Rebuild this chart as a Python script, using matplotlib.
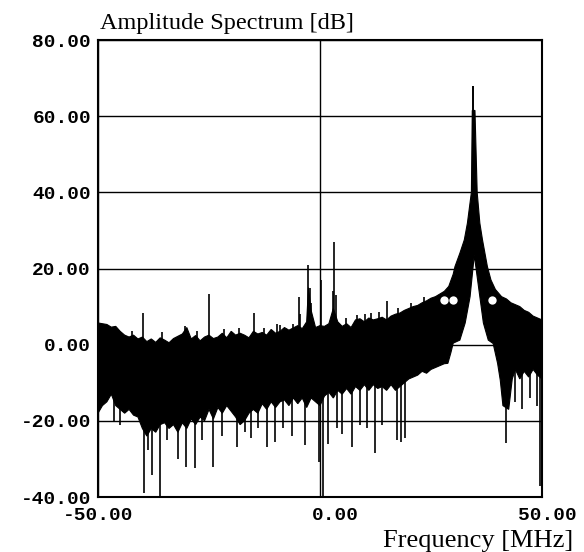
import matplotlib
matplotlib.use('Agg')
import matplotlib.pyplot as plt
import matplotlib.transforms as mtransforms
import numpy as np

# ── Data (frequency in MHz, level in dB) ─────────────────────────────────────
# top edge of the dense noise band, incl. the carrier skirt
top_freq = [-50, -49, -48, -47, -46, -45, -44, -43, -42, -41, -40, -39, -38, -37,
            -36, -35, -34, -33, -32, -31, -30, -29, -28, -27, -26, -25, -24, -23,
            -22, -21, -20, -19, -18, -17, -16, -15, -14, -13, -12, -11, -10, -9,
            -8, -7, -6, -5, -4, -3, -2.6, -2, -1, 0, 1, 2, 3, 4, 5, 6, 7, 8, 9,
            10, 11, 12, 13, 14, 15, 16, 17, 18, 19, 20, 21, 22, 23, 24, 25, 26,
            27, 28, 29, 30, 30.4, 31.5, 32.5, 33.2, 34.1, 34.3, 34.9, 35.4, 36.0,
            36.6, 37.7, 38.5, 39.5, 40.9, 42, 43, 44, 45, 46, 47, 48, 49, 50]
top_db = [5.7, 5.5, 5.3, 4.6, 4.8, 3.5, 2.5, 2.0, 2.5, 1.5, 2.0, 0.8, 1.5, 0.6,
          1.8, 1.2, 0.5, 1.6, 2.2, 2.8, 4.5, 1.5, 2.4, 1.0, 2.0, 2.5, 1.6, 2.0,
          3.0, 1.8, 3.5, 2.5, 3.0, 2.5, 1.8, 3.5, 2.8, 3.2, 2.5, 4.0, 3.0, 3.5,
          4.5, 3.8, 4.4, 5.0, 4.2, 6.0, 15.0, 9.0, 4.5, 5.0, 4.8, 5.5, 9.5, 6.0,
          4.8, 5.5, 4.5, 6.5, 6.8, 6.0, 7.0, 6.5, 6.8, 7.2, 6.5, 7.5, 8.0, 8.3,
          9.0, 9.5, 10.0, 10.3, 11.0, 11.5, 12.2, 12.6, 13.3, 14.0, 15.3, 18.5,
          20.5, 24.0, 27.5, 31.9, 40.0, 61.5, 61.5, 40.0, 31.9, 27.5, 20.5, 17.0,
          14.5, 12.6, 12.0, 11.0, 10.5, 10.0, 9.0, 8.5, 7.5, 7.0, 6.5]

# bottom edge of the dense noise band (white notch under the carrier)
bottom_freq = [-50, -49, -48, -47, -46, -45, -44, -43, -42, -41, -40, -39, -38,
               -37, -36, -35, -34, -33, -32, -31, -30, -29, -28, -27, -26, -25,
               -24, -23, -22, -21, -20, -19, -18, -17, -16, -15, -14, -13, -12,
               -11, -10, -9, -8, -7, -6, -5, -4, -3, -2, -1, 0, 1, 2, 3, 4, 5, 6,
               7, 8, 9, 10, 11, 12, 13, 14, 15, 16, 17, 18, 19, 20, 21, 22, 23,
               24, 25, 26, 27, 28, 28.8, 29.5, 30, 31.5, 32.7, 33.8, 34.75, 36.0,
               36.8, 37.9, 39, 40, 40.6, 41.2, 42.5, 43.3, 44, 45, 46, 47, 48, 49,
               50]
bottom_db = [-18, -16, -15, -13, -16, -17, -18, -17, -18.5, -19, -22, -24, -22,
             -23, -21, -20.5, -22, -21, -23, -20.5, -22, -19.5, -21, -19, -20,
             -17, -19.5, -16.5, -18, -16, -17.5, -19, -21, -20, -18, -17, -18,
             -15.5, -17, -15, -16.5, -15, -14.5, -16, -14, -15.5, -14, -16.5,
             -14, -15, -16, -13.5, -12.5, -14, -12, -13, -11.5, -13, -11, -12,
             -10.5, -12, -10.5, -11.5, -11, -12, -10.5, -12, -11, -10, -9, -8.5,
             -8, -7, -7.5, -6.5, -6, -5.5, -5, -4.9, -2, 0.4, 1.2, 5.7, 12.6,
             23.5, 12.6, 5.7, 1.2, 0.3, -4.9, -9.3, -16, -17, -9, -6.5, -9, -7,
             -8.5, -6.5, -8, -9]

# isolated spurs above the band
up_freq = [-46.2, -42.3, -39.8, -35.6, -30.3, -27.8, -24.9, -21.6, -18.3, -14.8,
           -12.6, -9.7, -9.0, -6.1, -4.7, -4.4, -2.6, -2.3, -2.0, 0.3, 2.9, 3.2,
           3.5, 5.8, 8.4, 10.2, 11.5, 13.2, 15.0, 17.5, 20.6, 23.5]
up_top = [5.0, 3.5, 8.4, 3.2, 4.8, 3.5, 13.3, 4.0, 4.5, 8.4,
          4.5, 5.5, 5.2, 5.5, 12.4, 8.0, 20.9, 15.0, 11.0, 17.0, 14.0, 27.0,
          13.0, 7.0, 7.8, 8.0, 8.2, 8.5, 11.4, 9.5, 11.0, 12.5]

# isolated dips below the band
down_freq = [-50.0, -46.5, -45.0, -39.6, -38.7, -37.8, -36.0, -34.5, -32.0, -30.2,
             -28.2, -26.5, -24.1, -22.0, -18.8, -16.8, -15.5, -14.0, -12.0, -10.1,
             -8.3, -6.4, -3.4, -0.2, 0.6, 1.8, 3.8, 4.9, 7.1, 9.0, 10.5, 12.4,
             14.0, 17.3, 18.2, 19.1, 41.9, 43.9, 45.5, 47.3, 48.9, 49.6]
down_bottom = [-25.6, -20, -21, -39, -27.7, -34.3, -40, -25, -30, -32, -32.5, -25,
               -32, -24, -27, -23, -24.5, -22, -27, -25.6, -22, -24, -26.4, -30.7,
               -40, -26, -22, -23.5, -27, -21, -22, -28.5, -21, -25, -25.5, -24.5,
               -25.8, -15, -17, -14, -16, -37]

# carrier line
peak_freq = 34.45
peak_base = 23.5
peak_top = 67.9

# white marker dots sitting on the skirt
dot_freq = [27.9, 29.9, 38.8]
dot_db = [11.7, 11.7, 11.7]

x_ticks = [-50, 0, 50]
x_labels = ['-50.00', '0.00', '50.00']
y_ticks = [-40, -20, 0, 20, 40, 60, 80]
y_labels = ['-40.00', '-20.00', '0.00', '20.00', '40.00', '60.00', '80.00']

# ── Figure ───────────────────────────────────────────────────────────────────
W, H = 584, 552
fig = plt.figure(figsize=(W / 100, H / 100), dpi=100)
ax = fig.add_axes([98 / W, 1 - 497 / H, 444 / W, 457 / H])

poly_x = np.r_[top_freq, bottom_freq[::-1]]
poly_y = np.r_[top_db, bottom_db[::-1]]
ax.fill(poly_x, poly_y, color='black', lw=0.8, zorder=2)
ax.vlines(up_freq, 0, up_top, color='black', lw=1.2, zorder=2)
ax.vlines(down_freq, down_bottom, 0, color='black', lw=1.2, zorder=2)
ax.vlines(peak_freq, peak_base, peak_top, color='black', lw=1.4, zorder=2)
ax.plot(dot_freq, dot_db, 'o', ms=6, mfc='white', mec='none', zorder=3)

ax.set_xlim(-50, 50)
ax.set_ylim(-40, 80)
ax.set_xticks(x_ticks, x_labels)
ax.set_yticks(y_ticks, y_labels)
ax.grid(True, color='black', lw=1.0, zorder=1)
ax.set_axisbelow(True)
ax.tick_params(length=0, labelsize=14)
ax.tick_params(axis='x', pad=7)
ax.tick_params(axis='y', pad=5)
for lab in ax.get_xticklabels() + ax.get_yticklabels():
    lab.set_family('Liberation Mono')
    lab.set_weight('bold')

# nudge x labels the way the original plotter placed them
x_shift = [0, 15, 5]
for lab, dx in zip(ax.get_xticklabels(), x_shift):
    lab.set_transform(lab.get_transform() +
                      mtransforms.ScaledTranslation(dx / 100, 0, fig.dpi_scale_trans))

for sp in ax.spines.values():
    sp.set_linewidth(1.5)
    sp.set_color('black')

fig.text(100 / W, 1 - 29 / H, 'Amplitude Spectrum [dB]', family='Liberation Serif',
         fontsize=17.5, ha='left', va='baseline')
fig.text(573 / W, 1 - 547 / H, 'Frequency [MHz]', family='Liberation Serif',
         fontsize=19, ha='right', va='baseline')

fig.savefig('out.png', dpi=100)
